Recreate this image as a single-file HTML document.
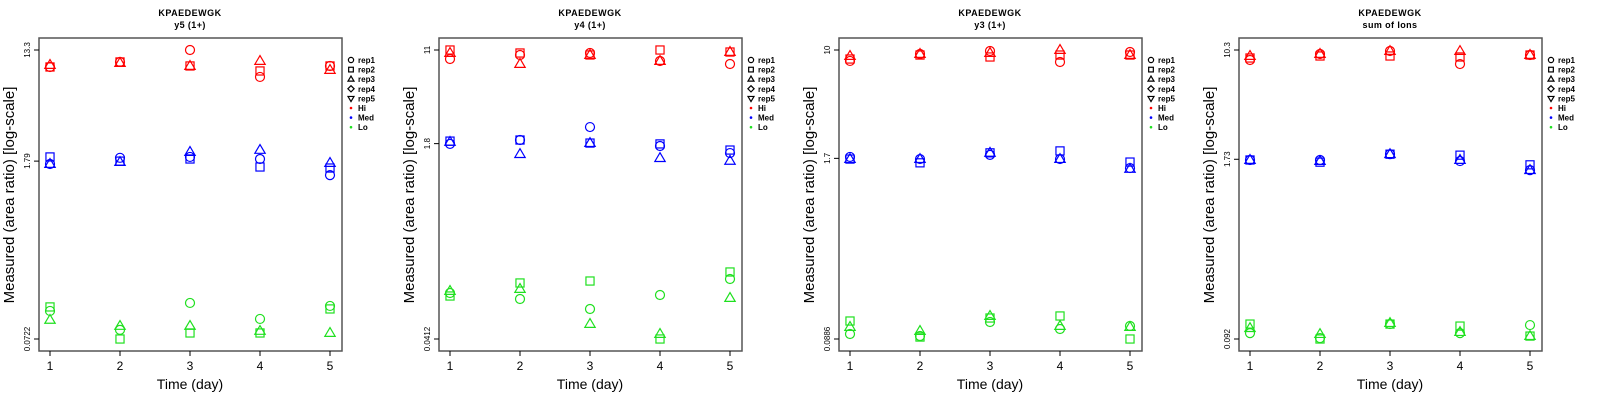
<!DOCTYPE html>
<html><head><meta charset="utf-8"><style>
body{margin:0;background:#fff}
svg{display:block;font-family:"Liberation Sans",sans-serif}
</style></head><body>
<svg id="chart" width="1600" height="400" viewBox="0 0 1600 400" xmlns="http://www.w3.org/2000/svg"></svg>
<script>
const days = [1,2,3,4,5];
const panelTitles = ["y5 (1+)","y4 (1+)","y3 (1+)","sum of Ions"];
const tickLabels = [["13.3","1.79","0.0722"],["11","1.8","0.0412"],["10","1.7","0.0886"],["10.3","1.73","0.092"]];
const tickValues = [[13.3,1.79,0.0722],[11,1.8,0.0412],[10,1.7,0.0886],[10.3,1.73,0.092]];
const reps = ["rep1","rep2","rep3"];
const levels = ["Hi","Med","Lo"];
// panel 1 (y5)
const p1Hi = [[9.79,10.72,13.3,8.18,9.97],[9.79,10.72,9.97,9.11,9.97],[10.15,10.52,9.97,10.91,9.27]];
const p1Med = [[1.70,1.90,1.93,1.86,1.39],[1.93,1.79,1.86,1.61,1.58],[1.70,1.76,2.11,2.19,1.73]];
const p1Lo = [[0.1198,0.0851,0.1384,0.1037,0.1311],[0.1288,0.0722,0.0805,0.0805,0.1242],[0.1019,0.0914,0.0914,0.0835,0.0805]];
// panel 2 (y4)
const p2Hi = [[9.24,9.99,10.38,8.89,8.39],[11.0,10.38,9.99,11.0,10.58],[10.38,8.39,9.99,8.89,10.58]];
const p2Med = [[1.79,1.93,2.48,1.72,1.50],[1.89,1.93,1.82,1.79,1.59],[1.86,1.47,1.82,1.36,1.29]];
const p2Lo = [[0.1003,0.0893,0.0736,0.0965,0.1314],[0.0946,0.1217,0.1264,0.0412,0.1505],[0.1042,0.1083,0.0551,0.0454,0.0910]];
// panel 3 (y3)
const p3Hi = [[8.36,9.37,9.84,8.22,9.68],[8.63,9.21,8.92,9.21,9.21],[9.07,9.37,9.52,10.0,9.21]];
const p3Med = [[1.74,1.68,1.80,1.68,1.45],[1.68,1.58,1.86,1.92,1.60],[1.68,1.68,1.86,1.68,1.43]];
const p3Lo = [[0.0962,0.0931,0.1170,0.1043,0.1096],[0.1189,0.0915,0.1249,0.1291,0.0886],[0.1078,0.1010,0.1291,0.1096,0.1078]];
// panel 4 (sum)
const p4Hi = [[8.75,9.65,10.13,8.19,9.49],[9.04,9.34,9.34,9.19,9.49],[9.34,9.65,10.13,10.13,9.49]];
const p4Med = [[1.71,1.71,1.88,1.68,1.45],[1.71,1.65,1.88,1.85,1.58],[1.71,1.68,1.88,1.71,1.45]];
const p4Lo = [[0.1013,0.0934,0.1174,0.1013,0.1155],[0.1174,0.092,0.1174,0.1136,0.0965],[0.1099,0.0997,0.1193,0.1030,0.0965]];

const panelData = [[p1Hi,p1Med,p1Lo],[p2Hi,p2Med,p2Lo],[p3Hi,p3Med,p3Lo],[p4Hi,p4Med,p4Lo]];
const colors = ["#ff0000","#0000ff","#1fe01f"];
const NS = "http://www.w3.org/2000/svg";
const svg = document.getElementById("chart");
function mk(tag, attrs, parent, text){
  const e = document.createElementNS(NS, tag);
  for (const k in attrs) e.setAttribute(k, attrs[k]);
  if (text !== undefined) e.textContent = text;
  parent.appendChild(e);
  return e;
}
function marker(shape, cx, cy, col, parent, r){
  let e;
  if (shape === 0) e = mk("circle",{cx:cx,cy:cy,r:r,fill:"none",stroke:col,"stroke-width":1.2},parent);
  else if (shape === 1) e = mk("rect",{x:cx-r*0.9,y:cy-r*0.9,width:r*1.8,height:r*1.8,fill:"none",stroke:col,"stroke-width":1.2},parent);
  else if (shape === 2) e = mk("polygon",{points:`${cx},${cy-r*1.2} ${cx+r*1.15},${cy+r*0.75} ${cx-r*1.15},${cy+r*0.75}`,fill:"none",stroke:col,"stroke-width":1.2},parent);
  else if (shape === 3) e = mk("polygon",{points:`${cx},${cy-r*1.2} ${cx+r*1.2},${cy} ${cx},${cy+r*1.2} ${cx-r*1.2},${cy}`,fill:"none",stroke:col,"stroke-width":1.2},parent);
  else e = mk("polygon",{points:`${cx},${cy+r*1.2} ${cx+r*1.15},${cy-r*0.75} ${cx-r*1.15},${cy-r*0.75}`,fill:"none",stroke:col,"stroke-width":1.2},parent);
  return e;
}
panelData.forEach((pd, p) => {
  const o = p*400;
  const g = mk("g",{},svg);
  
  
  const tv = tickValues[p];
  const lt = Math.log10(tv[0]), lb = Math.log10(tv[2]);
  const yS = v => 50 + (lt - Math.log10(v)) / (lt - lb) * 289;
  const xS = d => o + 50 + (d-1) * 70;
  const t1 = mk("text",{x:o+190,y:16,"text-anchor":"middle","font-size":9,"font-weight":"bold","letter-spacing":"0.5"},g,"KPAEDEWGK");
  
  
  const t2 = mk("text",{x:o+190,y:28,"text-anchor":"middle","font-size":9,"font-weight":"bold","letter-spacing":"0.4"},g,panelTitles[p]);
  
  
  const box = mk("rect",{x:o+39,y:38,width:303,height:313,fill:"none",stroke:"#555","stroke-width":1.5},g);
  
  
  tv.forEach((v,i) => {
    const y = yS(v);
    mk("line",{x1:o+34,x2:o+39,y1:y,y2:y,stroke:"#000"},g);
    const tl = mk("text",{x:0,y:0,transform:`translate(${o+30},${y}) rotate(-90)`,"text-anchor":"middle","font-size":8},g,tickLabels[p][i]);
    
    
  });
  days.forEach(d => {
    const x = xS(d);
    mk("line",{x1:x,x2:x,y1:351,y2:356,stroke:"#000"},g);
    const xl = mk("text",{x:x,y:370,"text-anchor":"middle","font-size":12},g,String(d));
    
    
  });
  const xt = mk("text",{x:o+190,y:389,"text-anchor":"middle","font-size":14},g,"Time (day)");
  
  
  const yt = mk("text",{x:0,y:0,transform:`translate(${o+14},195) rotate(-90)`,"text-anchor":"middle","font-size":15},g,"Measured (area ratio) [log-scale]");
  
  
  pd.forEach((lvl, li) => {
    lvl.forEach((series, ri) => {
      series.forEach((v, di) => {
        const m = marker(ri, xS(days[di]), yS(v), colors[li], g, 4.5);
        
        
      });
    });
  });
  const lg = mk("g",{},g);
  
  
  const legLabels = ["rep1","rep2","rep3","rep4","rep5","Hi","Med","Lo"];
  legLabels.forEach((lab, i) => {
    const y = 60 + i*9.6;
    if (i < 5) marker(i, o+351, y, "#000", lg, 2.6);
    else mk("circle",{cx:o+351,cy:y,r:1.3,fill:colors[i-5]},lg);
    const lt2 = mk("text",{x:o+358,y:y+3,"font-size":8,"font-weight":"bold"},lg,lab);
    
    
  });
});
</script>
</body></html>
